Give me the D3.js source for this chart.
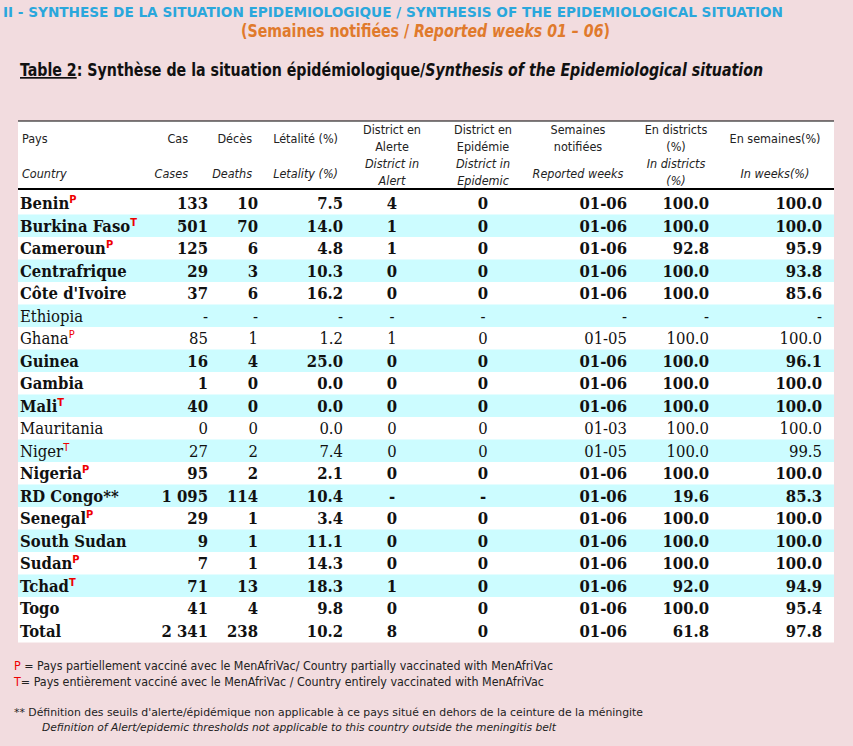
<!DOCTYPE html><html><head><meta charset="utf-8"><script src="https://cdn.jsdelivr.net/npm/d3@7"></script>
<style>body{margin:0;background:#f2dcdf}svg{display:block}</style></head><body><svg width="853" height="746"></svg>
<script>
const countries=["Benin","Burkina Faso","Cameroun","Centrafrique","Côte d'Ivoire","Ethiopia","Ghana","Guinea","Gambia","Mali","Mauritania","Niger","Nigeria","RD Congo**","Senegal","South Sudan","Sudan","Tchad","Togo","Total"];
const marks=["P","T","P","","","","P","","","T","","T","P","","P","","P","T","",""];
const cases=["133","501","125","29","37","-","85","16","1","40","0","27","95","1 095","29","9","7","71","41","2 341"];
const deaths=["10","70","6","3","6","-","1","4","0","0","0","2","2","114","1","1","1","13","4","238"];
const letality=["7.5","14.0","4.8","10.3","16.2","-","1.2","25.0","0.0","0.0","0.0","7.4","2.1","10.4","3.4","11.1","14.3","18.3","9.8","10.2"];
const alert=["4","1","1","0","0","-","1","0","0","0","0","0","0","-","0","0","0","1","0","8"];
const epidemic=["0","0","0","0","0","-","0","0","0","0","0","0","0","-","0","0","0","0","0","0"];
const weeks=["01-06","01-06","01-06","01-06","01-06","-","01-05","01-06","01-06","01-06","01-03","01-05","01-06","01-06","01-06","01-06","01-06","01-06","01-06","01-06"];
const inDistricts=["100.0","100.0","92.8","100.0","100.0","-","100.0","100.0","100.0","100.0","100.0","100.0","100.0","19.6","100.0","100.0","100.0","92.0","100.0","61.8"];
const inWeeks=["100.0","100.0","95.9","93.8","85.6","-","100.0","96.1","100.0","100.0","100.0","99.5","100.0","85.3","100.0","100.0","100.0","94.9","95.4","97.8"];
const plain=new Set(["Ethiopia","Ghana","Mauritania","Niger"]);
const svg=d3.select("svg");
const NF="'DejaVu Sans Condensed',sans-serif";
const SF="'DejaVu Serif Condensed','Liberation Serif',serif";
svg.append("text").attr("x",3).attr("y",17).attr("fill","#2aa7dc").attr("font-family",NF).attr("font-weight","bold").attr("font-size",14).attr("textLength",780).attr("lengthAdjust","spacingAndGlyphs").text("II - SYNTHESE DE LA SITUATION EPIDEMIOLOGIQUE / SYNTHESIS OF THE EPIDEMIOLOGICAL SITUATION");
const t2=svg.append("text").attr("x",241).attr("y",37).attr("fill","#e07a2c").attr("font-family",NF).attr("font-weight","bold").attr("font-size",17).attr("textLength",369).attr("lengthAdjust","spacingAndGlyphs");
t2.append("tspan").text("(Semaines notifiées / ");t2.append("tspan").attr("font-style","italic").text("Reported weeks 01 – 06");t2.append("tspan").text(")");
const t3=svg.append("text").attr("x",20).attr("y",76).attr("font-family",NF).attr("font-weight","bold").attr("font-size",17).attr("fill","#111").attr("textLength",743).attr("lengthAdjust","spacingAndGlyphs");
t3.append("tspan").attr("text-decoration","underline").text("Table 2");t3.append("tspan").text(": Synthèse de la situation épidémiologique/");t3.append("tspan").attr("font-style","italic").text("Synthesis of the Epidemiological situation");
const L=18,R=834,rowTop=192,rh=22.5;
const y=d3.scaleBand().domain(d3.range(countries.length)).range([rowTop,rowTop+rh*countries.length]);
svg.append("rect").attr("x",L).attr("y",121).attr("width",R-L).attr("height",71).attr("fill","#fff");
svg.selectAll(".row").data(countries).join("rect").attr("x",L).attr("width",R-L).attr("y",(d,i)=>y(i)).attr("height",y.bandwidth()+0.5).attr("fill",(d,i)=>(i%2&&i<19)?"#ccfcff":"#fff");
svg.append("line").attr("x1",L).attr("x2",R).attr("y1",121).attr("y2",121).attr("stroke","#000");
svg.append("line").attr("x1",L).attr("x2",R).attr("y1",189).attr("y2",189).attr("stroke","#000").attr("stroke-width",2);
const hdr=[
 {x:22,a:"start",fr:["Pays"],en:["Country"]},
 {x:188,a:"end",fr:["Cas"],en:["Cases"]},
 {x:252,a:"end",fr:["Décès"],en:["Deaths"]},
 {x:338,a:"end",fr:["Létalité (%)"],en:["Letality (%)"]},
 {x:392,a:"middle",fr:["District en","Alerte"],en:["District in","Alert"]},
 {x:483,a:"middle",fr:["District en","Epidémie"],en:["District in","Epidemic"]},
 {x:578,a:"middle",fr:["Semaines","notifiées"],en:["Reported weeks"]},
 {x:676,a:"middle",fr:["En districts","(%)"],en:["In districts","(%)"]},
 {x:775,a:"middle",fr:["En semaines(%)"],en:["In weeks(%)"]}];
hdr.forEach(h=>{
 const fy=h.fr.length==1?[143]:[134,151];
 h.fr.forEach((s,k)=>svg.append("text").attr("x",h.x).attr("y",fy[k]).attr("text-anchor",h.a).attr("font-family",NF).attr("font-size",12.5).attr("fill","#222").text(s));
 const ey=h.en.length==1?[178]:[168,185];
 h.en.forEach((s,k)=>svg.append("text").attr("x",h.x).attr("y",ey[k]).attr("text-anchor",h.a).attr("font-family",NF).attr("font-style","italic").attr("font-size",12.5).attr("fill","#222").text(s));
});
const cols=[{d:cases,x:208,a:"end"},{d:deaths,x:258,a:"end"},{d:letality,x:343,a:"end"},{d:alert,x:392,a:"middle"},{d:epidemic,x:483,a:"middle"},{d:weeks,x:627,a:"end"},{d:inDistricts,x:709,a:"end"},{d:inWeeks,x:822,a:"end"}];
countries.forEach((c,i)=>{
 const b=plain.has(c)?"normal":"bold", yy=y(i)+y.bandwidth()/2+6;
 const t=svg.append("text").attr("x",20).attr("y",yy).attr("font-family",SF).attr("font-weight",b).attr("font-size",16.5).attr("fill","#111").text(c);
 if(marks[i]) t.append("tspan").attr("dy",-6).attr("font-size",11).attr("fill","#e00").attr("font-family",NF).text(marks[i]);
 cols.forEach(col=>svg.append("text").attr("x",col.x).attr("y",yy).attr("text-anchor",col.a).attr("font-family",SF).attr("font-weight",b).attr("font-size",16.5).attr("fill","#111").text(col.d[i]));
});
const notes=[{y:670,m:"P",t:" = Pays partiellement vacciné avec le MenAfriVac/ Country partially  vaccinated with MenAfriVac",w:539},{y:686,m:"T",t:"= Pays entièrement vacciné avec le MenAfriVac / Country entirely  vaccinated with MenAfriVac",w:530}];
notes.forEach(n=>{const t=svg.append("text").attr("x",14).attr("y",n.y).attr("font-family",NF).attr("font-size",11.5).attr("fill","#222").attr("textLength",n.w).attr("lengthAdjust","spacingAndGlyphs");t.append("tspan").attr("fill","#e00").text(n.m);t.append("tspan").text(n.t);});
svg.append("text").attr("x",14).attr("y",716).attr("font-family",NF).attr("font-size",11).attr("fill","#222").attr("textLength",629).attr("lengthAdjust","spacingAndGlyphs").text("** Définition des seuils d'alerte/épidémique non applicable à ce pays situé en dehors de la ceinture de la méningite");
svg.append("text").attr("x",42).attr("y",731).attr("font-family",NF).attr("font-style","italic").attr("font-size",11).attr("fill","#222").attr("textLength",514).attr("lengthAdjust","spacingAndGlyphs").text("Definition of Alert/epidemic thresholds not applicable to this country outside the meningitis belt");
</script></body></html>
